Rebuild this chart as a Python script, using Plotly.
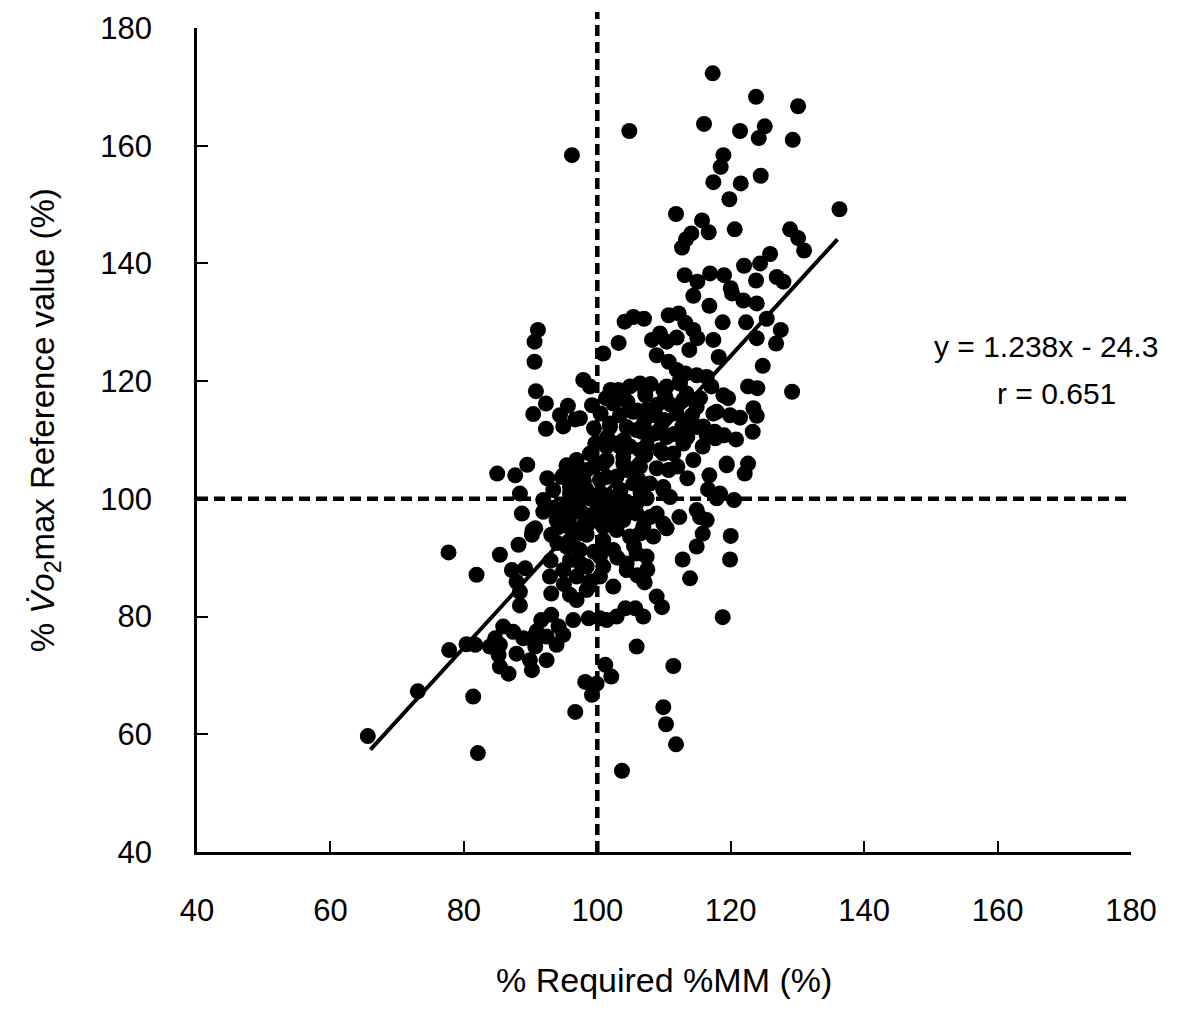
import plotly.graph_objects as go

# ---- data ----
x_high = [117.3, 123.8, 130.1, 104.8, 96.2, 116.0, 121.4, 125.1, 124.2, 129.3, 118.9, 118.5, 117.4, 121.5,
          124.5, 119.8, 111.8, 115.7, 116.7, 114.1, 113.3, 112.7, 120.6, 128.9, 130.1, 131.0, 136.3]
y_high = [172.3, 168.3, 166.7, 162.5, 158.4, 163.7, 162.5, 163.3, 161.3, 161.0, 158.4, 156.4, 153.8, 153.6,
          154.9, 150.9, 148.4, 147.3, 145.3, 145.1, 144.1, 142.7, 145.8, 145.8, 144.3, 142.2, 149.2]

x_right = [113.1, 115.0, 116.9, 119.0, 122.0, 124.4, 125.9, 123.8, 126.9, 127.9, 120.0, 114.4, 116.8, 120.2,
           121.9, 123.9, 118.8, 122.3, 125.4, 127.5, 123.9, 126.8, 124.8, 122.6, 124.0, 129.2, 123.4, 123.9,
           123.3, 122.6, 122.1, 119.4, 120.8, 119.0, 117.6, 119.9, 121.4, 117.9, 115.8, 114.4, 116.8, 116.6,
           118.4, 120.5, 117.9, 112.3, 114.9, 116.4]
y_right = [138.0, 136.9, 138.3, 138.0, 139.6, 140.0, 141.6, 137.1, 137.7, 136.9, 135.8, 134.5, 132.8, 134.9,
           133.7, 133.2, 130.0, 130.0, 130.6, 128.7, 127.3, 126.4, 122.6, 119.1, 118.8, 118.2, 115.4, 114.1,
           111.4, 106.0, 104.3, 105.7, 110.1, 110.8, 111.4, 114.2, 113.8, 114.8, 108.9, 106.6, 104.0, 101.6,
           100.9, 99.8, 100.1, 96.9, 98.1, 96.4]

x_core = [104.1, 105.4, 107.0, 103.2, 100.9, 110.7, 112.2, 113.2, 114.4, 115.0, 117.4, 113.8, 118.2, 109.4,
          108.2, 110.4, 111.9, 108.9, 110.7, 111.9, 113.2, 114.9, 116.4, 117.1, 118.9, 119.6, 112.4, 110.4,
          110.2, 113.4, 115.4, 106.4, 104.9, 103.2, 107.2, 97.9, 98.9, 101.3, 99.2, 97.4, 99.5, 102.4,
          103.4, 105.4, 107.4, 108.7, 110.0, 111.9, 114.2, 112.7, 114.9, 116.4, 101.9, 104.4, 106.7, 108.4,
          110.4, 99.7, 102.9, 104.9, 107.4, 109.4, 111.4, 98.9, 101.4, 103.9, 106.4, 108.9, 110.7, 98.4,
          100.4, 102.9, 105.4, 107.9, 109.9, 110.9, 98.4, 101.9, 104.4, 107.4, 97.9, 100.4, 103.4, 105.9,
          108.9]
y_core = [130.1, 130.9, 130.6, 126.5, 124.7, 131.2, 131.5, 129.9, 128.7, 127.3, 127.0, 125.3, 124.1, 128.1,
          127.0, 126.7, 127.4, 124.4, 123.3, 121.9, 121.3, 121.0, 120.7, 119.1, 117.6, 117.1, 119.6, 119.1,
          117.4, 117.9, 117.1, 119.6, 119.1, 118.5, 117.6, 120.2, 119.1, 117.1, 115.9, 113.7, 112.0, 116.2,
          114.2, 114.8, 115.1, 114.2, 113.4, 114.5, 114.2, 112.2, 112.2, 110.8, 112.2, 112.2, 111.4, 111.1,
          110.5, 109.4, 109.4, 108.9, 109.1, 108.3, 107.7, 107.7, 106.6, 106.0, 105.5, 105.2, 104.9, 104.9,
          103.2, 103.8, 102.6, 102.6, 102.0, 100.3, 101.5, 100.3, 99.5, 100.1, 97.5, 97.5, 96.9, 97.5,
          97.5]

x_core2 = [109.9, 112.4, 112.9, 114.9, 117.4, 113.4, 115.9, 105.9, 108.9, 106.4, 109.9, 112.9, 105.9, 109.9,
           105.9, 119.4, 115.4, 107.9, 109.9, 117.7, 107.2, 103.9, 101.9, 106.9, 101.4, 103.4, 107.2, 103.9,
           100.9, 100.9, 102.9, 101.4, 103.9, 94.2, 99.5, 90.7, 101.4, 104.4, 106.2, 95.9, 97.4, 94.9]
y_core2 = [118.5, 120.2, 116.8, 115.6, 114.5, 112.8, 112.3, 111.7, 111.2, 108.3, 107.7, 109.4, 104.9, 101.5,
           99.3, 106.0, 96.9, 96.9, 95.8, 110.3, 118.2, 117.9, 112.8, 112.2, 108.9, 108.9, 107.4, 107.2,
           106.0, 98.8, 99.3, 96.4, 96.4, 95.2, 97.2, 95.0, 103.7, 104.9, 103.2, 102.0, 101.8, 104.0]

x_core3 = [96.5, 98.0, 99.0, 97.0, 95.0, 99.5, 96.0, 98.5, 93.5, 92.5,
           102.0, 104.5, 106.0, 108.0, 109.0, 111.0, 100.5, 101.5, 104.0, 107.0, 109.5, 111.5, 113.5, 112.0,
           113.5, 106.5, 103.5, 100.5, 102.0, 104.5,
           94.0, 96.5, 97.5, 95.0, 93.0, 99.0, 97.0, 105.5, 107.5, 103.0, 106.0]
y_core3 = [99.0, 103.0, 100.0, 104.5, 98.5, 105.5, 95.0, 95.5, 98.5, 103.5,
           118.5, 116.5, 115.0, 119.5, 116.0, 116.0, 114.5, 110.5, 110.0, 113.0, 112.0, 111.0, 110.5, 105.5,
           103.5, 101.0, 101.5, 101.0, 98.0, 97.5,
           92.5, 93.5, 89.0, 85.5, 89.5, 86.0, 94.5, 92.0, 88.0, 90.0, 87.0]

x_left = [91.1, 90.6, 90.6, 90.8, 92.3, 90.4, 92.3, 95.6, 94.4, 96.7, 94.9, 89.5, 87.7, 85.0,
          88.4, 88.7, 91.9, 91.9, 95.4, 96.9, 94.7, 96.4, 93.4, 95.9, 97.4, 93.9, 95.9, 90.3]
y_left = [128.7, 126.7, 123.3, 118.3, 116.2, 114.4, 111.9, 115.8, 114.2, 113.5, 112.3, 105.8, 104.0, 104.3,
          100.9, 97.5, 99.8, 97.8, 105.7, 106.6, 103.7, 102.6, 101.5, 100.9, 99.8, 96.4, 97.0, 94.7]

x_low = [81.9, 85.4, 88.2, 90.2, 87.2, 89.2, 87.9, 88.4, 88.4, 93.1, 95.4, 92.9, 93.1, 94.9,
         95.9, 96.9, 98.4, 95.9, 96.9, 98.7, 98.4, 97.4, 99.5, 100.9, 102.4, 100.9, 102.4, 100.9,
         102.9, 104.9, 105.9, 104.4, 106.9, 106.9, 96.4, 93.1, 91.6, 94.2, 94.9, 93.9, 92.4, 90.9,
         90.2, 88.9, 90.7, 87.9, 89.9, 92.4, 90.2, 85.9, 87.4, 84.7, 83.9, 81.7, 85.4, 85.2,
         85.4, 86.7, 81.4, 98.7, 100.4, 101.4, 102.9, 104.2, 105.7, 106.9, 105.9, 101.2, 102.1, 98.2,
         99.9, 99.2, 96.7]
y_low = [87.1, 90.5, 92.2, 93.9, 87.9, 88.2, 85.9, 84.2, 81.9, 93.9, 91.9, 86.8, 83.9, 87.9,
         89.6, 86.8, 88.5, 83.7, 82.8, 85.1, 93.9, 91.3, 91.0, 91.9, 91.3, 88.5, 85.1, 95.3,
         94.7, 93.6, 90.7, 89.0, 95.3, 86.2, 79.4, 80.3, 79.4, 78.3, 76.9, 75.2, 76.6, 77.5,
         76.3, 76.3, 74.9, 73.7, 72.6, 72.6, 70.9, 78.3, 77.4, 76.3, 74.9, 75.2, 75.2, 73.5,
         71.5, 70.3, 66.4, 79.7, 79.7, 79.4, 80.0, 81.4, 81.4, 80.0, 74.9, 71.8, 69.8, 68.9,
         68.6, 66.7, 63.8]

x_outer = [77.7, 73.1, 82.1, 65.6, 77.8, 80.4,
           120.0, 119.9, 112.8, 114.9, 115.8, 113.9, 110.4, 107.1, 108.9, 109.7, 118.8, 111.4, 109.9, 110.3,
           111.8, 103.7, 100.9, 100.4, 104.4, 100.4, 107.4, 108.4, 98.4, 106.4]
y_outer = [90.9, 67.3, 56.8, 59.7, 74.3, 75.3,
           93.7, 89.7, 89.7, 91.9, 94.1, 86.5, 95.0, 85.8, 83.4, 81.6, 79.9, 71.6, 64.6, 61.7,
           58.3, 53.8, 93.0, 90.2, 87.9, 86.8, 90.2, 93.6, 84.5, 94.1]

x_all = x_high + x_right + x_core + x_core2 + x_core3 + x_left + x_low + x_outer
y_all = y_high + y_right + y_core + y_core2 + y_core3 + y_left + y_low + y_outer

# regression line end points (y = 1.238x - 24.3)
fit_x = [66, 136]
fit_y = [57.4, 144.1]

ref_x = 100
ref_y = 100
tick_vals = [40, 60, 80, 100, 120, 140, 160, 180]

fig = go.Figure()
fig.add_trace(go.Scatter(x=x_all, y=y_all, mode="markers",
                         marker=dict(size=16, color="black", line=dict(width=0)),
                         cliponaxis=False, hoverinfo="x+y"))
fig.add_trace(go.Scatter(x=fit_x, y=fit_y, mode="lines",
                         line=dict(color="black", width=4), hoverinfo="skip"))

fig.add_shape(type="line", xref="x", yref="y", x0=40, x1=180, y0=ref_y, y1=ref_y,
              line=dict(color="black", width=4.5, dash="11px,6px"))
fig.add_shape(type="line", xref="x", yref="paper", x0=ref_x, x1=ref_x, y0=0, y1=1.0194,
              line=dict(color="black", width=4.5, dash="11px,6px"))

font_family = "Liberation Sans, Arial, sans-serif"

fig.add_annotation(xref="paper", yref="paper", x=0.5, y=-0.155, xanchor="center", yanchor="middle",
                   text="% Required %MM (%)", showarrow=False, font=dict(size=34, color="black"))
fig.add_annotation(xref="paper", yref="paper", x=-0.1627, y=0.524, xanchor="center", yanchor="middle",
                   textangle=-90, showarrow=False,
                   text="% <i>V\u0307o</i><sub>2</sub>max Reference value (%)",
                   font=dict(size=33, color="black"))
fig.add_annotation(xref="paper", yref="paper", x=0.909, y=0.613, xanchor="center", yanchor="middle",
                   text="y = 1.238x - 24.3", showarrow=False, font=dict(size=30, color="black"))
fig.add_annotation(xref="paper", yref="paper", x=0.920, y=0.557, xanchor="center", yanchor="middle",
                   text="r = 0.651", showarrow=False, font=dict(size=30, color="black"))

axis_common = dict(range=[40, 180], tickvals=tick_vals, ticks="inside", ticklen=11, tickwidth=2,
                   tickcolor="black", showline=True, linecolor="black", linewidth=2.5,
                   showgrid=False, zeroline=False, tickfont=dict(size=31, color="black"))
fig.update_xaxes(**axis_common, ticklabelstandoff=29)
fig.update_yaxes(**axis_common, ticklabelstandoff=36)

# page body adds an 8px offset, so margins are reduced by 8px on left/top
fig.update_layout(width=1200, height=1017, margin=dict(l=189, r=77, t=20, b=173, autoexpand=False),
                  plot_bgcolor="white", paper_bgcolor="white", showlegend=False,
                  font=dict(family=font_family, color="black"))

fig.write_html("out.html")
